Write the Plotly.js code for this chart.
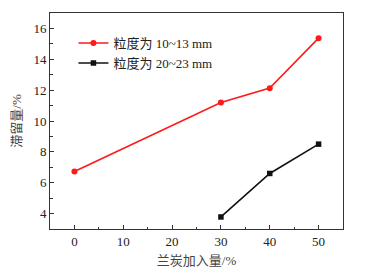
<!DOCTYPE html>
<html><head><meta charset="utf-8">
<script src="https://cdn.plot.ly/plotly-3.0.1.min.js"></script>
<style>html,body{margin:0;padding:0;background:#fff}#c{width:367px;height:271px}</style>
</head><body><div id="c"></div>
<script>
const xRed = [0, 30, 40, 50];
const yRed = [6.73, 11.2, 12.13, 15.37];
const xBlack = [30, 40, 50];
const yBlack = [3.78, 6.6, 8.5];
const nameRed = '粒度为 10~13 mm';
const nameBlack = '粒度为 20~23 mm';
const xTitle = '兰炭加入量/%';
const yTitle = '滞留量/%';
const FONT = 'Liberation Serif, Times New Roman, Noto Sans CJK SC, serif';

const traces = [
  {x: xRed, y: yRed, name: nameRed, mode: 'lines+markers', type: 'scatter',
   line: {color: '#ff1a1a', width: 1.6}, marker: {symbol: 'circle', size: 6, color: '#ff1a1a'}},
  {x: xBlack, y: yBlack, name: nameBlack, mode: 'lines+markers', type: 'scatter',
   line: {color: '#111', width: 1.6}, marker: {symbol: 'square', size: 5.5, color: '#111'}}
];
const axisCommon = {showline: true, mirror: true, linecolor: '#333', linewidth: 1,
  ticks: 'inside', ticklen: 4, tickcolor: '#333', showgrid: false, zeroline: false,
  tickfont: {family: FONT, size: 13, color: '#222'}};
const layout = {
  width: 367, height: 271,
  margin: {l: 50, r: 24, t: 13, b: 42},
  paper_bgcolor: '#fff', plot_bgcolor: '#fff',
  showlegend: true,
  legend: {x: 0.08, y: 0.93, xanchor: 'left', yanchor: 'top', bgcolor: 'rgba(0,0,0,0)',
    font: {family: FONT, size: 13, color: '#222'}, tracegroupgap: 0, itemwidth: 30},
  xaxis: Object.assign({}, axisCommon, {range: [-5, 55], tickvals: [0,10,20,30,40,50],
    minor: {tickvals: [-5,5,15,25,35,45,55], ticks: 'inside', ticklen: 2.5, tickcolor: '#333'},
    title: {text: xTitle, font: {family: FONT, size: 13, color: '#444'}, standoff: 8}}),
  yaxis: Object.assign({}, axisCommon, {range: [3, 17], tickvals: [4,6,8,10,12,14,16],
    minor: {tickvals: [3,5,7,9,11,13,15,17], ticks: 'inside', ticklen: 2.5, tickcolor: '#333'},
    title: {text: yTitle, font: {family: FONT, size: 13, color: '#444'}, standoff: 8}})
};
Plotly.newPlot('c', traces, layout, {staticPlot: true, displayModeBar: false});
</script></body></html>
